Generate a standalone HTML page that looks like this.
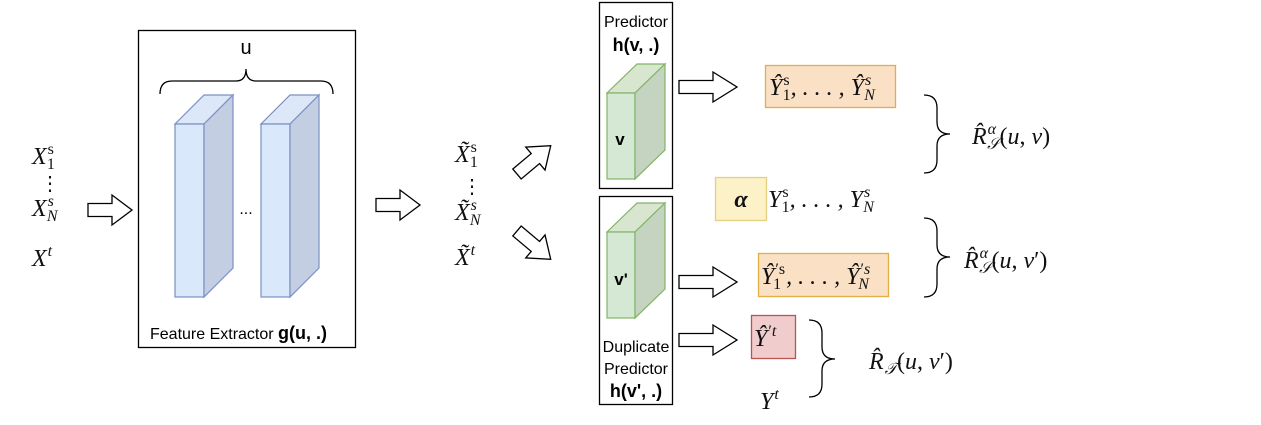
<!DOCTYPE html>
<html><head><meta charset="utf-8"><style>
html,body{margin:0;padding:0;background:#fff;}
svg{display:block;}
.m{font-family:"Liberation Serif",serif;font-style:italic;font-size:24px;fill:#111;}
.r{font-style:normal;}
.sub{font-size:16px;}
.s{font-family:"Liberation Sans",sans-serif;fill:#000;}
</style></head><body>
<svg width="1261" height="425" viewBox="0 0 1261 425" xmlns="http://www.w3.org/2000/svg">
<defs>
<g id="arr"><polygon points="0,-6.5 34,-6.5 34,-15 58,0 34,15 34,6.5 0,6.5" fill="#fff" stroke="#000" stroke-width="1.3"/></g>
<g id="arrS"><polygon points="0,-6.5 24,-6.5 24,-15 44,0 24,15 24,6.5 0,6.5" fill="#fff" stroke="#000" stroke-width="1.3"/></g>
</defs>

<!-- left inputs -->
<text class="m" x="32" y="164">X<tspan class="sub r" dx="1" dy="-10">s</tspan><tspan class="sub r" dx="-7" dy="15">1</tspan></text>
<text class="m r" x="40" y="190" style="font-size:20px">⋮</text>
<text class="m" x="32" y="216">X<tspan class="sub" dx="1" dy="-10">s</tspan><tspan class="sub" dx="-7" dy="15">N</tspan></text>
<text class="m" x="32" y="266">X<tspan class="sub" dx="1" dy="-10">t</tspan></text>
<use href="#arrS" x="88" y="210"/>

<!-- feature extractor -->
<rect x="138.5" y="30.5" width="217" height="317" fill="#fff" stroke="#000" stroke-width="1.3"/>
<text class="s" x="246" y="54" font-size="20" text-anchor="middle">u</text>
<path d="M160,94 Q160,81 172,81 L236,81 Q246,81 246,69 Q246,81 256,81 L321,81 Q333,81 333,94" fill="none" stroke="#000" stroke-width="1.3"/>
<g stroke="#7b8fc2" stroke-width="1.2">
<polygon points="175,124 204,124 233,95 204,95" fill="#dce7f8"/>
<rect x="175" y="124" width="29" height="173" fill="#dae8fc"/>
<polygon points="204,124 233,95 233,268 204,297" fill="#c4cee3"/>
<polygon points="261,124 290,124 319,95 290,95" fill="#dce7f8"/>
<rect x="261" y="124" width="29" height="173" fill="#dae8fc"/>
<polygon points="290,124 319,95 319,268 290,297" fill="#c4cee3"/>
</g>
<text class="s" x="246" y="214" font-size="16" text-anchor="middle">...</text>
<text class="s" x="150" y="339" font-size="16">Feature Extractor <tspan font-weight="bold" font-size="18">g(u, .)</tspan></text>

<use href="#arrS" x="376" y="205"/>

<!-- tilde X -->
<text class="m" x="455" y="162">X̃<tspan class="sub r" dx="1" dy="-10">s</tspan><tspan class="sub r" dx="-7" dy="15">1</tspan></text>
<text class="m r" x="462" y="193" style="font-size:20px">⋮</text>
<text class="m" x="455" y="220">X̃<tspan class="sub" dx="1" dy="-10">s</tspan><tspan class="sub" dx="-7" dy="15">N</tspan></text>
<text class="m" x="455" y="265">X̃<tspan class="sub" dx="1" dy="-10">t</tspan></text>

<g transform="translate(517,174) rotate(-40)"><use href="#arrS"/></g>
<g transform="translate(517,231) rotate(40)"><use href="#arrS"/></g>

<!-- predictor -->
<rect x="599.5" y="2.5" width="73" height="186" fill="#fff" stroke="#000" stroke-width="1.3"/>
<text class="s" x="636" y="27" font-size="16" text-anchor="middle">Predictor</text>
<text class="s" x="636" y="51" font-size="18" font-weight="bold" text-anchor="middle">h(v, .)</text>
<g stroke="#82b366" stroke-width="1.2">
<polygon points="607,93 635,93 665,64 637,64" fill="#d8e6cf"/>
<rect x="607" y="93" width="28" height="86" fill="#d5e8d4"/>
<polygon points="635,93 665,64 665,150 635,179" fill="#c5d4c0"/>
</g>
<text class="s" x="620" y="145" font-size="17" font-weight="bold" text-anchor="middle">v</text>

<!-- duplicate predictor -->
<rect x="599.5" y="196.5" width="73" height="208" fill="#fff" stroke="#000" stroke-width="1.3"/>
<g stroke="#82b366" stroke-width="1.2">
<polygon points="607,232 635,232 665,203 637,203" fill="#d8e6cf"/>
<rect x="607" y="232" width="28" height="86" fill="#d5e8d4"/>
<polygon points="635,232 665,203 665,289 635,318" fill="#c5d4c0"/>
</g>
<text class="s" x="621" y="285" font-size="17" font-weight="bold" text-anchor="middle">v'</text>
<text class="s" x="636" y="352" font-size="16" text-anchor="middle">Duplicate</text>
<text class="s" x="636" y="374" font-size="16" text-anchor="middle">Predictor</text>
<text class="s" x="636" y="397" font-size="18" font-weight="bold" text-anchor="middle">h(v', .)</text>

<use href="#arr" x="679" y="87"/>
<use href="#arr" x="679" y="282"/>
<use href="#arr" x="679" y="340"/>

<!-- output boxes -->
<rect x="765.5" y="65.5" width="130" height="42" fill="#fae0c5" stroke="#e0b045" stroke-width="1.3"/>
<text class="m" x="769" y="95">Ŷ<tspan class="sub r" dx="1" dy="-10">s</tspan><tspan class="sub r" dx="-7" dy="15">1</tspan><tspan dy="-5">, . . . , Ŷ</tspan><tspan class="sub" dx="1" dy="-10">s</tspan><tspan class="sub" dx="-7" dy="15">N</tspan></text>

<rect x="715.5" y="177.5" width="51" height="43" fill="#fdf1c8" stroke="#e4cf7e" stroke-width="1.3"/>
<text class="m" x="741" y="207" text-anchor="middle" font-weight="bold">α</text>
<text class="m" x="768" y="207">Y<tspan class="sub r" dx="1" dy="-10">s</tspan><tspan class="sub r" dx="-7" dy="15">1</tspan><tspan dy="-5">, . . . , Y</tspan><tspan class="sub" dx="1" dy="-10">s</tspan><tspan class="sub" dx="-7" dy="15">N</tspan></text>

<rect x="758.5" y="253.5" width="130" height="43" fill="#fae0c5" stroke="#e0b045" stroke-width="1.3"/>
<text class="m" x="761" y="284">Ŷ<tspan class="sub r" dx="1" dy="-10">′s</tspan><tspan class="sub r" dx="-12" dy="15">1</tspan><tspan dx="5" dy="-5">, . . . , Ŷ</tspan><tspan class="sub" dx="1" dy="-10"><tspan class="r">′</tspan>s</tspan><tspan class="sub" dx="-12" dy="15">N</tspan></text>

<rect x="751.5" y="315.5" width="44" height="43" fill="#f0cccc" stroke="#b85450" stroke-width="1.3"/>
<text class="m" x="754" y="346">Ŷ<tspan class="sub" dx="1" dy="-10"><tspan class="r">′</tspan>t</tspan></text>
<text class="m" x="760" y="409">Y<tspan class="sub" dx="1" dy="-10">t</tspan></text>

<!-- braces -->
<g fill="none" stroke="#000" stroke-width="1.3">
<path d="M924,95 Q937,95 937,108 L937,122 Q937,134 950,134 Q937,134 937,146 L937,160 Q937,173 924,173"/>
<path d="M924,218 Q937,218 937,231 L937,245 Q937,257 950,257 Q937,257 937,269 L937,284 Q937,297 924,297"/>
<path d="M809,320 Q822,320 822,333 L822,347 Q822,359 835,359 Q822,359 822,371 L822,384 Q822,397 809,397"/>
</g>

<text class="m" x="972" y="144">R̂<tspan class="sub" dx="1" dy="-10">α</tspan><tspan class="sub" dx="-9" dy="15">𝒮</tspan><tspan class="r" dy="-5">(</tspan>u<tspan class="r">, </tspan>v<tspan class="r">)</tspan></text>
<text class="m" x="964" y="268">R̂<tspan class="sub" dx="1" dy="-10">α</tspan><tspan class="sub" dx="-9" dy="15">𝒮</tspan><tspan class="r" dy="-5">(</tspan>u<tspan class="r">, </tspan>v<tspan class="r">′)</tspan></text>
<text class="m" x="869" y="369">R̂<tspan class="sub" dx="1" dy="5">𝒯</tspan><tspan class="r" dy="-5">(</tspan>u<tspan class="r">, </tspan>v<tspan class="r">′)</tspan></text>
</svg>
</body></html>
